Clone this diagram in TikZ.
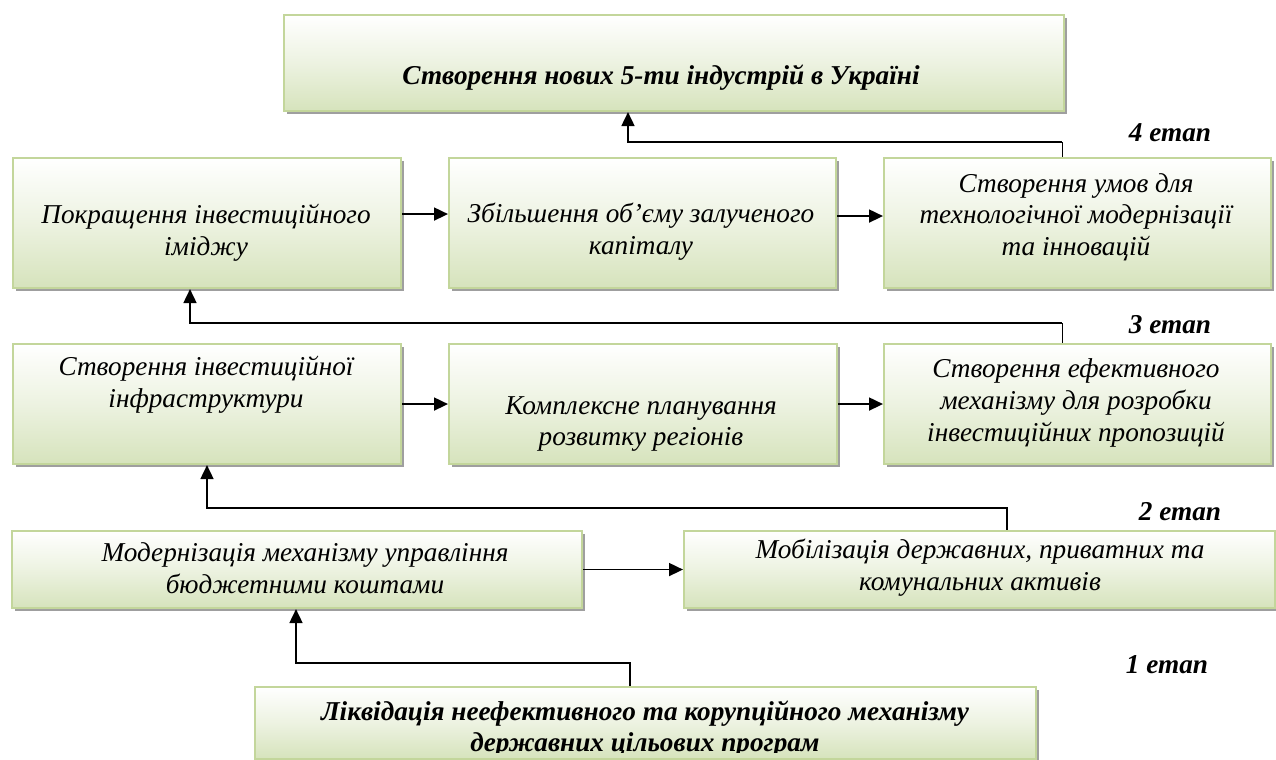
\documentclass[tikz,border=0pt]{standalone}
\usepackage{fontspec}
\setmainfont{Liberation Serif}
\usetikzlibrary{arrows.meta, shadows}
\definecolor{boxbot}{RGB}{214,227,188}
\definecolor{boxline}{RGB}{195,214,155}

\begin{document}
\begin{tikzpicture}[
  x=0.02cm, y=-0.02cm,
  >={Triangle[length=2.8mm, width=2.6mm]},
  font=\fontsize{15.5}{18}\selectfont\itshape,
  box/.style={
    rectangle, anchor=north west,
    draw=boxline, line width=1.2pt,
    top color=white, bottom color=boxbot, middle color=boxbot!45,
    drop shadow={shadow xshift=0.6mm, shadow yshift=-0.6mm, fill=gray!75, opacity=1},
    inner sep=0pt
  },
  txt/.style={align=center, inner sep=0pt},
  bold/.style={font=\fontsize{15.5}{18}\selectfont\bfseries\itshape},
  arrow/.style={->, line width=1pt},
  stub/.style={line width=0.5pt}
]
\useasboundingbox (0,0) rectangle (1276,760);

% Goal
\node[box, minimum width=15.6cm, minimum height=1.92cm] (goal) at (283,14) {};
\node[txt, bold] (tgoal) at (661,78) {Створення нових 5-ти індустрій в Україні};

% Stage 4
\node[box, minimum width=7.76cm, minimum height=2.6cm] (img) at (12,157) {};
\node[txt] (timg) at (206,233) {Покращення інвестиційного\\іміджу};
\node[box, minimum width=7.74cm, minimum height=2.6cm] (cap) at (448,157) {};
\node[txt] (tcap) at (641,232) {Збільшення об’єму залученого\\капіталу};
\node[box, minimum width=7.74cm, minimum height=2.6cm] (tech) at (883,157) {};
\node[txt] (ttech) at (1076,217) {Створення умов для\\технологічної модернізації\\та інновацій};

% Stage 3
\node[box, minimum width=7.76cm, minimum height=2.4cm] (infra) at (12,343) {};
\node[txt] (tinfra) at (206,385) {Створення інвестиційної\\інфраструктури};
\node[box, minimum width=7.76cm, minimum height=2.4cm] (plan) at (448,343) {};
\node[txt] (tplan) at (641,424) {Комплексне планування\\розвитку регіонів};
\node[box, minimum width=7.74cm, minimum height=2.4cm] (prop) at (883,343) {};
\node[txt] (tprop) at (1076,403) {Створення ефективного\\механізму для розробки\\інвестиційних пропозицій};

% Stage 2
\node[box, minimum width=11.4cm, minimum height=1.54cm] (budg) at (11,530) {};
\node[txt] (tbudg) at (305,568) {Модернізація механізму управління\\бюджетними коштами};
\node[box, minimum width=11.82cm, minimum height=1.54cm] (asset) at (683,530) {};
\node[txt] (tasset) at (980,568) {Мобілізація державних, приватних та\\комунальних активів};

% Stage 1
\node[box, minimum width=15.62cm, minimum height=1.44cm] (liq) at (254,686) {};
\begin{scope}
  \clip (liq.north west) rectangle (1035,752);
  \node[txt, bold] (tliq) at (645,729) {Ліквідація неефективного та корупційного механізму\\державних цільових програм};
\end{scope}

% Stage labels
\node[bold] (st4) at (1170,133) {4 етап};
\node[bold] (st3) at (1170,325) {3 етап};
\node[bold] (st2) at (1180,512) {2 етап};
\node[bold] (st1) at (1167,665) {1 етап};

% Arrows
\coordinate (s4) at (1062,142);
\coordinate (k4) at (628,0);
\coordinate (s3) at (1062,323);
\coordinate (k3) at (190,0);
\coordinate (s2) at (1007,508);
\coordinate (k2) at (207,0);
\coordinate (s1) at (630,663);
\coordinate (k1) at (296,0);

\draw[arrow] ([yshift=0.18cm]img.east) -- ([yshift=0.18cm]cap.west);
\draw[arrow] ([yshift=0.14cm]cap.east) -- ([yshift=0.14cm]tech.west);
\draw[arrow] (infra.east) -- (plan.west);
\draw[arrow] (plan.east) -- (prop.west);
\draw[arrow] (budg.east) -- (asset.west);

\draw[stub] (tech.north -| s4) -- (s4);
\draw[arrow] (s4) -| (goal.south -| k4);
\draw[stub] (prop.north -| s3) -- (s3);
\draw[arrow] (s3) -| (img.south -| k3);
\draw[arrow] (asset.north -| s2) -- (s2) -| (infra.south -| k2);
\draw[arrow] (liq.north -| s1) -- (s1) -| (budg.south -| k1);

\end{tikzpicture}
\end{document}
